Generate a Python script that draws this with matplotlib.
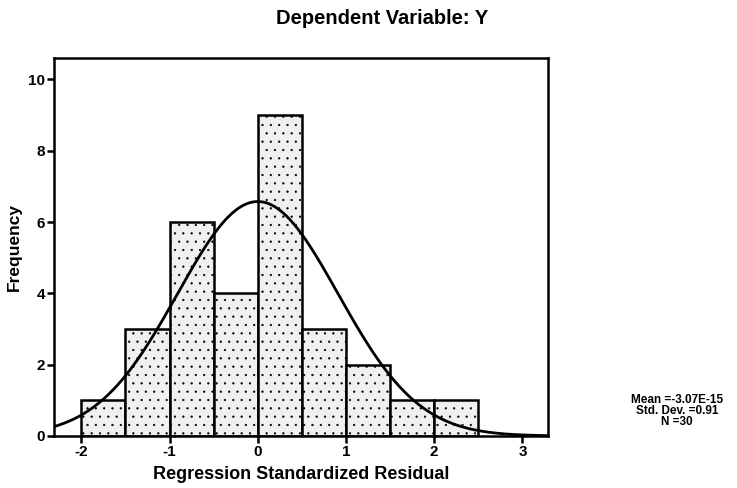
import numpy as np
import matplotlib
matplotlib.use("Agg")
import matplotlib.pyplot as plt

bin_edges = [-2.0, -1.5, -1.0, -0.5, 0.0, 0.5, 1.0, 1.5, 2.0, 2.5]
counts = [1, 3, 6, 4, 9, 3, 2, 1, 1]
mean = -3.07e-15
std = 0.91
n = 30

plt.rcParams['font.family'] = ['Liberation Sans', 'DejaVu Sans']
plt.rcParams['axes.unicode_minus'] = False
plt.rcParams['hatch.color'] = '#9a9a9a'
plt.rcParams['hatch.linewidth'] = 0.4

fig = plt.figure(figsize=(7.37, 4.88), dpi=100)
ax = fig.add_axes([0.0733, 0.1066, 0.6703, 0.7744])

lefts = bin_edges[:-1]
widths = np.diff(bin_edges)
ax.bar(lefts, counts, width=widths, align='edge', facecolor='#f0f0f0',
       edgecolor='black', linewidth=1.8, hatch='..', zorder=2)

xs = np.linspace(-2.31, 3.29, 400)
bw = widths[0]
ys = n * bw / (std * np.sqrt(2 * np.pi)) * np.exp(-0.5 * ((xs - mean) / std) ** 2)
ax.plot(xs, ys, color='black', linewidth=2.0, zorder=3)

ax.set_xlim(-2.31, 3.29)
ax.set_ylim(0, 10.6)
ax.set_xticks([-2, -1, 0, 1, 2, 3])
ax.set_yticks([0, 2, 4, 6, 8, 10])
ax.tick_params(direction='out', length=5, width=1.8, labelsize=11, pad=1.5)
for lab in ax.get_xticklabels() + ax.get_yticklabels():
    lab.set_fontweight('bold')
for s in ax.spines.values():
    s.set_linewidth(1.8)

ax.set_xlabel('Regression Standardized Residual', fontsize=13, fontweight='bold', labelpad=5)
ax.set_ylabel('Frequency', fontsize=12.5, fontweight='bold')
ax.yaxis.set_label_coords(-0.066, 0.5)

fig.text(0.518, 0.963, 'Dependent Variable: Y', ha='center', va='center',
         fontsize=14.5, fontweight='bold')
fig.text(0.9186, 0.158, 'Mean =-3.07E-15\nStd. Dev. =0.91\nN =30', ha='center', va='center',
         fontsize=8.5, fontweight='bold', linespacing=0.85)

fig.savefig('out.png', dpi=100)
